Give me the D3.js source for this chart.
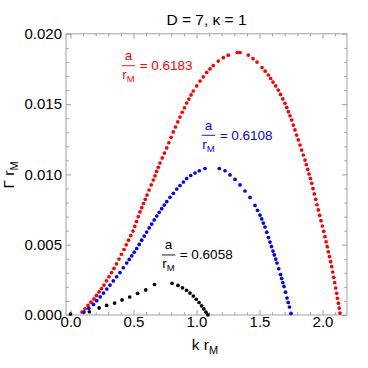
<!DOCTYPE html>
<html><head><meta charset="utf-8">
<script src="https://cdn.jsdelivr.net/npm/d3@7"></script>
<style>body{margin:0;background:#fff}svg{display:block}text{font-family:"Liberation Sans",Arial,sans-serif}</style>
</head><body><svg id="c" width="368" height="368"></svg>
<script>
// ---- data ----
const redK = [0.0913,0.1151,0.1389,0.1627,0.1865,0.2063,0.2262,0.2460,0.2659,0.2857,0.3056,0.3254,0.3452,0.3651,0.3849,0.4048,0.4246,0.4425,0.4603,0.4782,0.4960,0.5099,0.5238,0.5377,0.5516,0.5655,0.5794,0.5933,0.6071,0.6238,0.6405,0.6571,0.6706,0.6837,0.6968,0.7103,0.7278,0.7460,0.7635,0.7810,0.7984,0.8159,0.8333,0.8516,0.8690,0.8865,0.9048,0.9222,0.9397,0.9571,0.9746,1.0016,1.0278,1.0540,1.0810,1.1071,1.1333,1.1730,1.2127,1.2524,1.3238,1.3452,1.4111,1.4484,1.4802,1.5198,1.5448,1.5698,1.5885,1.6071,1.6282,1.6492,1.6667,1.6849,1.7024,1.7159,1.7290,1.7421,1.7556,1.7687,1.7817,1.7948,1.8079,1.8214,1.8345,1.8476,1.8611,1.8714,1.8825,1.8929,1.9040,1.9143,1.9246,1.9349,1.9460,1.9563,1.9667,1.9770,1.9881,1.9984,2.0095,2.0198,2.0286,2.0373,2.0464,2.0556,2.0643,2.0730,2.0810,2.0889,2.0968,2.1048,2.1127,2.1190,2.1258,2.1325,2.1389];
const redG = [0.00021,0.00044,0.00068,0.00091,0.00114,0.00139,0.00164,0.00188,0.00213,0.00243,0.00272,0.00302,0.00331,0.00364,0.00398,0.00432,0.00466,0.00499,0.00532,0.00565,0.00597,0.00631,0.00665,0.00699,0.00733,0.00763,0.00793,0.00823,0.00853,0.00889,0.00925,0.0096,0.0099,0.01021,0.01051,0.01081,0.01117,0.01152,0.01188,0.01225,0.01264,0.01302,0.01337,0.01373,0.01408,0.01442,0.01474,0.01508,0.01536,0.01565,0.01593,0.01629,0.01664,0.01694,0.01725,0.0175,0.01774,0.01806,0.0183,0.01848,0.01867,0.01867,0.01849,0.01824,0.01799,0.0176,0.01734,0.01707,0.01682,0.01657,0.01629,0.016,0.01569,0.01537,0.01506,0.01476,0.01446,0.01417,0.01387,0.01351,0.01316,0.0128,0.01245,0.01209,0.01173,0.01138,0.01102,0.01069,0.01036,0.01003,0.0097,0.00937,0.00899,0.00861,0.00823,0.00784,0.00747,0.00709,0.00671,0.00633,0.00595,0.00557,0.00521,0.00486,0.0045,0.00415,0.00379,0.00344,0.00306,0.00268,0.0023,0.00192,0.00154,0.00119,0.00084,0.00049,0.00014];
const blueK = [0.1071,0.1448,0.1825,0.2087,0.2357,0.2619,0.2881,0.3135,0.3397,0.3663,0.3929,0.4194,0.4460,0.4659,0.4857,0.5056,0.5254,0.5452,0.5651,0.5849,0.6048,0.6246,0.6444,0.6643,0.6841,0.7040,0.7238,0.7437,0.7635,0.7897,0.8167,0.8429,0.8690,0.8960,0.9222,0.9540,0.9881,1.0222,1.0675,1.1810,1.2262,1.2659,1.3056,1.3452,1.3849,1.4246,1.4643,1.4841,1.5040,1.5175,1.5302,1.5437,1.5575,1.5714,1.5833,1.5952,1.6071,1.6175,1.6286,1.6389,1.6528,1.6667,1.6762,1.6849,1.6944,1.7063,1.7183,1.7282,1.7381,1.75];
const blueG = [0.00021,0.00048,0.00075,0.00102,0.00129,0.00156,0.00185,0.00213,0.00242,0.00272,0.00302,0.00336,0.0037,0.00395,0.00421,0.00447,0.00473,0.00502,0.00532,0.00561,0.0059,0.00619,0.00647,0.00676,0.00704,0.0073,0.00756,0.00782,0.00807,0.00837,0.00866,0.00896,0.00921,0.00946,0.00971,0.00992,0.0101,0.01026,0.01042,0.01042,0.01026,0.00996,0.00964,0.00925,0.00882,0.00836,0.00779,0.00745,0.00711,0.00683,0.00654,0.00626,0.00589,0.00551,0.00519,0.00487,0.00455,0.00427,0.00398,0.0037,0.00329,0.00288,0.0026,0.00231,0.00203,0.00162,0.00121,0.00089,0.00057,0.00011];
const blackK = [0.0,0.15,0.227,0.287,0.35,0.409,0.47,0.532,0.597,0.667,0.806,0.853,0.889,0.921,0.948,0.975,0.998,1.02,1.04,1.058,1.075,1.09];
const blackG = [0.00007,0.00023,0.0005,0.00068,0.00085,0.00107,0.00128,0.00154,0.00178,0.00217,0.00225,0.0021,0.00193,0.00176,0.00156,0.00135,0.00112,0.00089,0.00065,0.00043,0.0002,0.00001];

const xMajor = [0, 0.5, 1.0, 1.5, 2.0];
const xMajorLabels = ["0.0", "0.5", "1.0", "1.5", "2.0"];
const xMinor = [0.1,0.2,0.3,0.4,0.6,0.7,0.8,0.9,1.1,1.2,1.3,1.4,1.6,1.7,1.8,1.9,2.1];
const yMajor = [0, 0.005, 0.010, 0.015, 0.020];
const yMajorLabels = ["0.000", "0.005", "0.010", "0.015", "0.020"];
const yMinor = [0.001,0.002,0.003,0.004,0.006,0.007,0.008,0.009,0.011,0.012,0.013,0.014,0.016,0.017,0.018,0.019];

const seriesNames = ["red", "blue", "black"];
const ratioLabels = ["0.6183", "0.6108", "0.6058"];
const labelK = [0.406, 1.041, 0.724];
const labelG = [0.01773, 0.01278, 0.00427];
const titleText = "D = 7, \u03BA = 1";

// ---- drawing ----
const svg = d3.select("#c");
const L = 66, R = 347, T = 33.8, B = 315;
const x = d3.scaleLinear().domain([-0.0357, 2.1944]).range([L, R]);
const y = d3.scaleLinear().domain([0, 0.02]).range([B, T]);
const frameCol = "#a0a0a0";
const tickFont = 15;

function styleAxis(g){
  g.select(".domain").remove();
  g.selectAll(".tick line").attr("stroke", frameCol).attr("stroke-width", 1);
  g.selectAll("text").attr("fill", "#000").style("font-size", tickFont + "px").style("font-family", '"Liberation Sans",Arial,sans-serif');
}
const fmtX = d => xMajorLabels[xMajor.indexOf(d)];
const fmtY = d => yMajorLabels[yMajor.indexOf(d)];

// bottom
svg.append("g").attr("transform", `translate(0,${B})`)
  .call(d3.axisBottom(x).tickValues(xMajor).tickFormat(fmtX).tickSize(-5).tickPadding(1)).call(styleAxis);
svg.append("g").attr("transform", `translate(0,${B})`)
  .call(d3.axisBottom(x).tickValues(xMinor).tickFormat("").tickSize(-2.7)).call(styleAxis);
// top
svg.append("g").attr("transform", `translate(0,${T})`)
  .call(d3.axisTop(x).tickValues(xMajor).tickFormat("").tickSize(-5)).call(styleAxis);
svg.append("g").attr("transform", `translate(0,${T})`)
  .call(d3.axisTop(x).tickValues(xMinor).tickFormat("").tickSize(-2.7)).call(styleAxis);
// left
svg.append("g").attr("transform", `translate(${L},0)`)
  .call(d3.axisLeft(y).tickValues(yMajor).tickFormat(fmtY).tickSize(-5).tickPadding(4)).call(styleAxis);
svg.append("g").attr("transform", `translate(${L},0)`)
  .call(d3.axisLeft(y).tickValues(yMinor).tickFormat("").tickSize(-2.7)).call(styleAxis);
// right
svg.append("g").attr("transform", `translate(${R},0)`)
  .call(d3.axisRight(y).tickValues(yMajor).tickFormat("").tickSize(-5)).call(styleAxis);
svg.append("g").attr("transform", `translate(${R},0)`)
  .call(d3.axisRight(y).tickValues(yMinor).tickFormat("").tickSize(-2.7)).call(styleAxis);

// frame
svg.append("rect").attr("x", L).attr("y", T).attr("width", R - L).attr("height", B - T)
  .attr("fill", "none").attr("stroke", frameCol).attr("stroke-width", 1);

// series
const colors = {red: "#ff0000", blue: "#0000ff", black: "#000000"};
const series = [
  {name: "red", k: redK, g: redG, r: 1.85},
  {name: "blue", k: blueK, g: blueG, r: 1.85},
  {name: "black", k: blackK, g: blackG, r: 1.85}
];
series.forEach(s => {
  const pts = s.k.map((k, i) => ({k, g: s.g[i]}));
  svg.append("g").selectAll("circle").data(pts).join("circle")
    .attr("cx", d => x(d.k)).attr("cy", d => y(d.g)).attr("r", s.r)
    .attr("fill", colors[s.name]);
});

// annotations a / r_M = value
const annFont = 13.5;
seriesNames.forEach((nm, i) => {
  const col = colors[nm];
  const bx = x(labelK[i]), by = y(labelG[i]);
  const bw = 13.5;
  const g = svg.append("g").attr("fill", col).style("font-size", annFont + "px");
  g.append("line").attr("x1", bx).attr("x2", bx + bw).attr("y1", by).attr("y2", by)
    .attr("stroke", col).attr("stroke-width", 0.9);
  g.append("text").attr("x", bx + bw / 2).attr("y", by - 5.5).attr("text-anchor", "middle").text("a");
  const rt = g.append("text").attr("x", bx + 0.5).attr("y", by + 13.5);
  rt.append("tspan").text("r");
  rt.append("tspan").attr("dy", 3).style("font-size", "9.5px").text("M");
  g.append("text").attr("x", bx + bw + 4.5).attr("y", by + 4.5).text("= " + ratioLabels[i]);
});

// title
svg.append("text").attr("x", (L + R) / 2).attr("y", 25).attr("text-anchor", "middle")
  .style("font-size", "15.5px").attr("fill", "#000").text(titleText);

// x label
const xl = svg.append("text").attr("x", 205).attr("y", 350).attr("text-anchor", "middle")
  .style("font-size", "15.5px").attr("fill", "#000");
xl.append("tspan").text("k r");
xl.append("tspan").attr("dy", 3.5).style("font-size", "11px").text("M");

// y label
const yl = svg.append("text").attr("transform", "translate(14,175) rotate(-90)").attr("text-anchor", "middle")
  .style("font-size", "15.5px").attr("fill", "#000");
yl.append("tspan").text("\u0393 r");
yl.append("tspan").attr("dy", 3.5).style("font-size", "11px").text("M");
</script>
</body></html>
